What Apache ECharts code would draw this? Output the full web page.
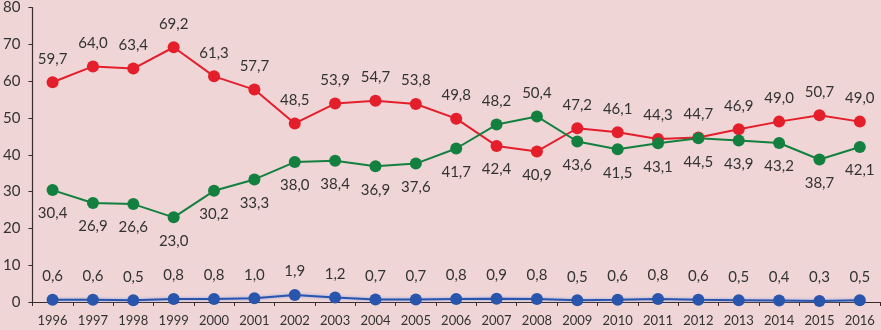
<!DOCTYPE html>
<html>
<head>
    <meta charset="utf-8">
    <title>ECharts</title>
    <script src="https://cdn.jsdelivr.net/npm/echarts@6/dist/echarts.min.js"></script>
</head>
<body style="margin:0px;background-color:#efd5d6;">
    <div id="main" style="width:881px;height:330px;"></div>
    <script type="text/javascript">
        // years on the x axis
        var years = ['1996', '1997', '1998', '1999', '2000', '2001', '2002', '2003', '2004', '2005', '2006',
                     '2007', '2008', '2009', '2010', '2011', '2012', '2013', '2014', '2015', '2016'];
        // red series
        var redValues = [59.7, 64.0, 63.4, 69.2, 61.3, 57.7, 48.5, 53.9, 54.7, 53.8, 49.8,
                         42.4, 40.9, 47.2, 46.1, 44.3, 44.7, 46.9, 49.0, 50.7, 49.0];
        // green series
        var greenValues = [30.4, 26.9, 26.6, 23.0, 30.2, 33.3, 38.0, 38.4, 36.9, 37.6, 41.7,
                           48.2, 50.4, 43.6, 41.5, 43.1, 44.5, 43.9, 43.2, 38.7, 42.1];
        // blue series
        var blueValues = [0.6, 0.6, 0.5, 0.8, 0.8, 1.0, 1.9, 1.2, 0.7, 0.7, 0.8,
                          0.9, 0.8, 0.5, 0.6, 0.8, 0.6, 0.5, 0.4, 0.3, 0.5];
        // y axis ticks
        var yMin = 0, yMax = 80, yStep = 10;

        var textColor = '#333333';
        var labelFont = 'Lato';

        function fmt(v) {
            return v.toFixed(1).replace('.', ',');
        }

        // higher of red/green gets its label on top, the lower one below
        function withLabels(values, other) {
            return values.map(function (v, i) {
                var pos = other ? (v >= other[i] ? 'top' : 'bottom') : 'top';
                return { value: v, label: { position: pos } };
            });
        }

        function lineSeries(name, values, other, color, extra) {
            var s = {
                name: name,
                type: 'line',
                data: withLabels(values, other),
                symbol: 'circle',
                symbolSize: 12,
                lineStyle: { color: color, width: 2 },
                itemStyle: { color: color },
                label: {
                    show: true,
                    distance: 10,
                    color: textColor,
                    fontFamily: labelFont,
                    fontSize: 15,
                    formatter: function (p) { return fmt(p.value); }
                },
                emphasis: { disabled: true },
                animation: false
            };
            if (extra) {
                for (var k in extra) s[k] = extra[k];
            }
            return s;
        }

        var myChart = echarts.init(document.getElementById('main'), null, { renderer: 'canvas' });

        var option = {
            backgroundColor: '#efd5d6',
            grid: { left: 32, right: 1, top: 6, bottom: 28 },
            xAxis: {
                type: 'category',
                data: years,
                boundaryGap: true,
                axisLine: { lineStyle: { color: '#3a2c2c', width: 1.2 } },
                axisTick: { show: true, length: 4, alignWithLabel: false, lineStyle: { color: '#3a2c2c' } },
                axisLabel: { color: textColor, fontFamily: labelFont, fontSize: 13, margin: 12, interval: 0 },
                splitLine: { show: false }
            },
            yAxis: {
                type: 'value',
                min: yMin,
                max: yMax,
                interval: yStep,
                axisLine: { show: true, lineStyle: { color: '#3a2c2c', width: 1.2 } },
                axisTick: { show: true, length: 4, lineStyle: { color: '#3a2c2c' } },
                axisLabel: { color: textColor, fontFamily: labelFont, fontSize: 15, margin: 12 },
                splitLine: { show: false }
            },
            series: [
                lineSeries('red', redValues, greenValues, '#e41e2b'),
                lineSeries('green', greenValues, redValues, '#14803f'),
                lineSeries('blue', blueValues, null, '#2a55ad', {
                    lineStyle: { color: '#2a55ad', width: 2, shadowColor: 'rgba(120,150,230,0.8)', shadowBlur: 3 }
                })
            ]
        };

        myChart.setOption(option);
    </script>
</body>
</html>
